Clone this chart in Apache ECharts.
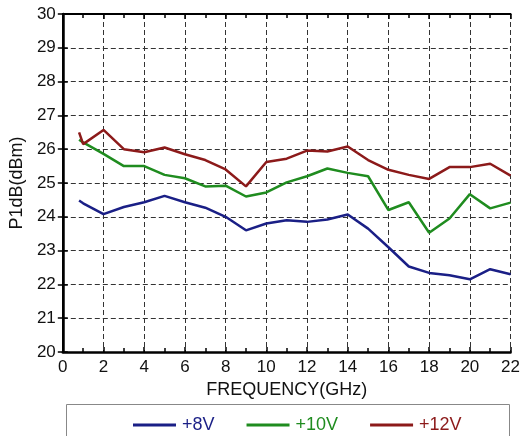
<!DOCTYPE html>
<html>
<head>
<meta charset="utf-8">
<script src="https://cdn.jsdelivr.net/npm/echarts@6/dist/echarts.min.js"></script>
<style>html,body{margin:0;padding:0;background:#fff}#c{width:523px;height:436px}</style>
</head>
<body>
<div id="c"></div>
<script>
var freq = [0.8, 1, 2, 3, 4, 5, 6, 7, 8, 9, 10, 11, 12, 13, 14, 15, 16, 17, 18, 19, 20, 21, 22];
var v8  = [24.48, 24.4, 24.08, 24.29, 24.43, 24.62, 24.43, 24.27, 24.0, 23.6, 23.8, 23.9, 23.85, 23.92, 24.07, 23.65, 23.1, 22.53, 22.34, 22.27, 22.15, 22.45, 22.3];
var v10 = [26.28, 26.2, 25.86, 25.5, 25.5, 25.24, 25.14, 24.9, 24.92, 24.6, 24.72, 25.02, 25.2, 25.43, 25.3, 25.2, 24.2, 24.43, 23.53, 23.95, 24.67, 24.25, 24.42];
var v12 = [26.5, 26.15, 26.57, 26.0, 25.91, 26.05, 25.85, 25.68, 25.4, 24.9, 25.62, 25.72, 25.96, 25.93, 26.08, 25.68, 25.39, 25.24, 25.12, 25.47, 25.47, 25.57, 25.22];
var seriesNames = ['+8V', '+10V', '+12V'];
var colors = ['#1a1f86', '#1f8c1f', '#8c1a1a'];
var xTicks = [0, 2, 4, 6, 8, 10, 12, 14, 16, 18, 20, 22];
var yTicks = [20, 21, 22, 23, 24, 25, 26, 27, 28, 29, 30];

function pairs(vals) { return freq.map(function (f, i) { return [f, vals[i]]; }); }

var font = 'Liberation Sans, Arial, sans-serif';
var dash = { type: [5, 3], color: '#333', width: 1 };
var chart = echarts.init(document.getElementById('c'), null, { renderer: 'canvas' });
var sets = [v8, v10, v12];
chart.setOption({
  animation: false,
  backgroundColor: '#fff',
  grid: { left: 61, right: 9, top: 14, bottom: 84 },
  legend: {
    top: 411, left: 128, itemWidth: 43, itemHeight: 3, itemGap: 32,
    icon: 'rect',
    data: seriesNames.map(function (n, i) { return { name: n, textStyle: { color: colors[i] } }; }),
    textStyle: { fontFamily: font, fontSize: 18, padding: [0, 0, 0, 1] }
  },
  graphic: [{
    type: 'rect', left: 64, top: 402, shape: { width: 443, height: 50 },
    style: { fill: 'none', stroke: '#888', lineWidth: 1 }, z: -1
  }],
  xAxis: [{
    type: 'value', min: xTicks[0], max: xTicks[xTicks.length - 1], interval: 2,
    name: 'FREQUENCY(GHz)', nameLocation: 'middle', nameGap: 25,
    nameTextStyle: { fontFamily: font, fontSize: 18, color: '#111' },
    axisLine: { show: true, lineStyle: { color: '#000', width: 2.5 } },
    axisTick: { show: true, inside: true, length: 5, lineStyle: { color: '#000', width: 1.5 } },
    minorTick: { show: true, splitNumber: 2, length: 4, lineStyle: { color: '#000', width: 1.5 } },
    axisLabel: { fontFamily: font, fontSize: 17, color: '#111', margin: 7 },
    splitLine: { show: true, lineStyle: dash }
  }, {
    type: 'value', position: 'top', min: 0, max: 22, interval: 2,
    axisLine: { show: true, lineStyle: { color: '#000', width: 2 } },
    axisTick: { show: true, inside: true, length: 5, lineStyle: { color: '#000', width: 1.5 } },
    minorTick: { show: true, splitNumber: 2, length: 4, lineStyle: { color: '#000', width: 1.5 } },
    axisLabel: { show: false }, splitLine: { show: false }
  }],
  yAxis: [{
    type: 'value', min: yTicks[0], max: yTicks[yTicks.length - 1], interval: 1,
    name: 'P1dB(dBm)', nameLocation: 'middle', nameGap: 31,
    nameTextStyle: { fontFamily: font, fontSize: 18, color: '#111' },
    axisLine: { show: true, lineStyle: { color: '#000', width: 2.5 } },
    axisTick: { show: true, inside: true, length: 5, lineStyle: { color: '#000', width: 1.5 } },
    axisLabel: { fontFamily: font, fontSize: 17, color: '#111', margin: 7 },
    splitLine: { show: true, lineStyle: dash }
  }, {
    type: 'value', position: 'right', min: 20, max: 30, interval: 1,
    axisLine: { show: true, lineStyle: { color: '#000', width: 2 } },
    axisTick: { show: true, inside: true, length: 5, lineStyle: { color: '#000', width: 1.5 } },
    axisLabel: { show: false }, splitLine: { show: false }
  }],
  series: seriesNames.map(function (n, i) {
    return {
      name: n, type: 'line', data: pairs(sets[i]), showSymbol: false, symbol: 'none',
      lineStyle: { color: colors[i], width: 2.5 }, itemStyle: { color: colors[i] }
    };
  })
});
</script>
</body>
</html>
